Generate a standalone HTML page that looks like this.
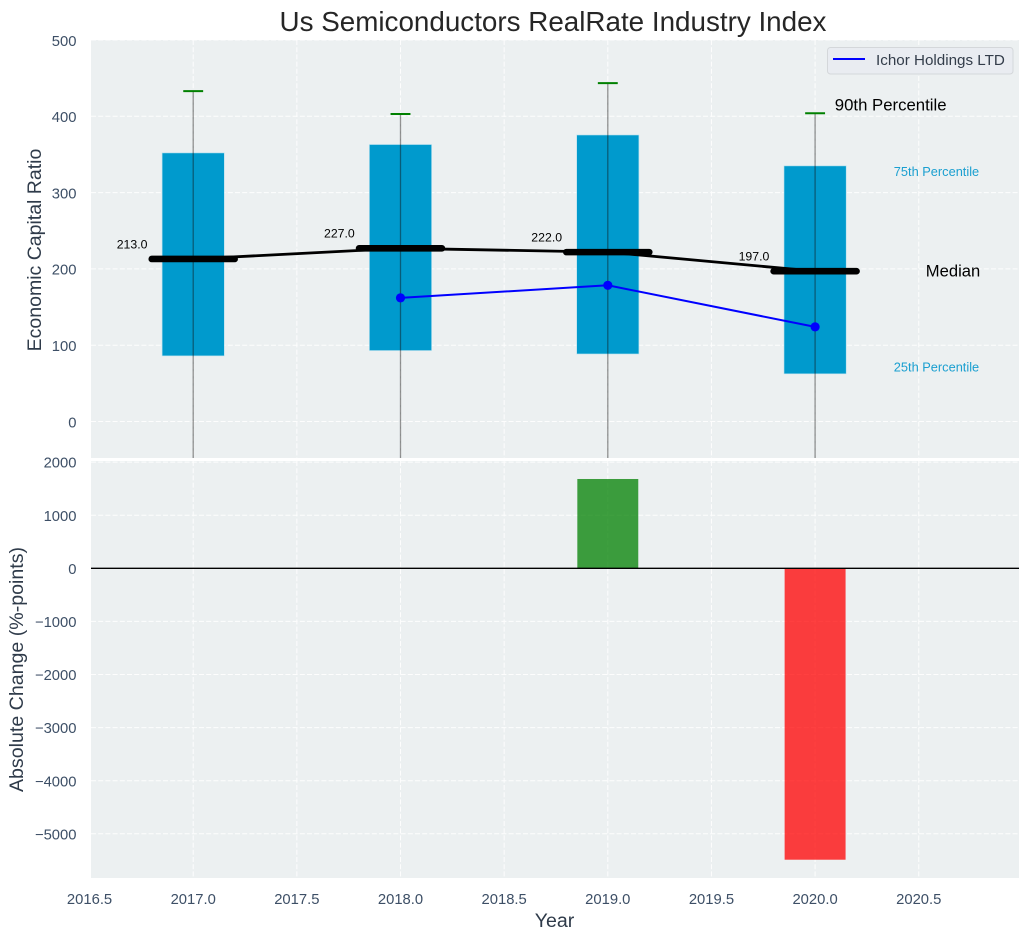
<!DOCTYPE html>
<html lang="en">
<head>
<meta charset="utf-8">
<title>Us Semiconductors RealRate Industry Index</title>
<style>
html,body{margin:0;padding:0;background:#fff;}
body{width:1029px;height:940px;overflow:hidden;}
svg{display:block;font-family:"Liberation Sans",sans-serif;}
</style>
</head>
<body>
<svg id="chart" width="1029" height="940" viewBox="0 0 1029 940" xmlns="http://www.w3.org/2000/svg">
<defs>
<clipPath id="clip-top"><rect x="91" y="40" width="928" height="418"/></clipPath>
<clipPath id="clip-bottom"><rect x="91" y="461" width="928" height="417"/></clipPath>
</defs>
</svg>
<script>
const years = [2017, 2018, 2019, 2020];
const q1Values = [86, 93, 88.5, 62.5];
const q3Values = [352, 363, 375.5, 335];
const medianValues = [213, 227, 222, 197];
const p90Values = [433, 403, 443.5, 404];
const p10Values = [-60, -60, -60, -60];
const companyYears = [2018, 2019, 2020];
const companyValues = [162, 178.5, 124];
const changeYears = [2019, 2020];
const changeValues = [1682, -5488];
const xTicks = [2016.5, 2017, 2017.5, 2018, 2018.5, 2019, 2019.5, 2020, 2020.5];
const xTickLabels = ['2016.5', '2017.0', '2017.5', '2018.0', '2018.5', '2019.0', '2019.5', '2020.0', '2020.5'];
const topTicks = [0, 100, 200, 300, 400, 500];
const bottomTicks = [2000, 1000, 0, -1000, -2000, -3000, -4000, -5000];

const svg = document.getElementById('chart');
const NS = 'http://www.w3.org/2000/svg';

function xScale(v) { return 193.2 + (v - 2017) * 207.3; }
function yTop(v) { return 421.5 - v * 0.763; }
function yBottom(v) { return 568.3 - v * 0.0531; }

function make(tag, attrs, parent) {
  const el = document.createElementNS(NS, tag);
  for (const k in attrs) el.setAttribute(k, attrs[k]);
  (parent || svg).appendChild(el);
  return el;
}
function makeText(str, attrs, parent) {
  const el = make('text', attrs, parent);
  el.textContent = str;
  return el;
}
function fmtTick(v) { return v < 0 ? '\u2212' + Math.abs(v) : String(v); }

/* panels */
const topBg = make('rect', {x: 91, y: 40, width: 928, height: 418, fill: '#ecf0f1'});


const botBg = make('rect', {x: 91, y: 461, width: 928, height: 417, fill: '#ecf0f1'});



const gridTop = make('g', {'clip-path': 'url(#clip-top)', stroke: '#fff', 'stroke-width': 1, 'stroke-dasharray': '5 2.2', opacity: 0.9});


const gridBottom = make('g', {'clip-path': 'url(#clip-bottom)', stroke: '#fff', 'stroke-width': 1, 'stroke-dasharray': '5 2.2', opacity: 0.9});



xTicks.forEach(function (t) {
  make('line', {x1: xScale(t), x2: xScale(t), y1: 40, y2: 458}, gridTop);
  make('line', {x1: xScale(t), x2: xScale(t), y1: 461, y2: 878}, gridBottom);
});
topTicks.forEach(function (t) {
  make('line', {x1: 91, x2: 1019, y1: yTop(t), y2: yTop(t)}, gridTop);
});
bottomTicks.forEach(function (t) {
  make('line', {x1: 91, x2: 1019, y1: yBottom(t), y2: yBottom(t)}, gridBottom);
});

/* tick labels */
const tickColor = '#3d4f66';
const yTickGroup = make('g', {fill: tickColor, 'font-size': 14.8, 'text-anchor': 'end'});


topTicks.forEach(function (t) {
  makeText(fmtTick(t), {x: 76.5, y: yTop(t) + 5.8}, yTickGroup);
});
bottomTicks.forEach(function (t) {
  makeText(fmtTick(t), {x: 76.5, y: yBottom(t) + 5.6}, yTickGroup);
});
const xTickGroup = make('g', {fill: tickColor, 'font-size': 14.8, 'text-anchor': 'middle'});


xTicks.forEach(function (t, i) {
  makeText(xTickLabels[i], {x: xScale(t), y: 904}, xTickGroup);
});

/* top panel marks */
const marks = make('g', {'clip-path': 'url(#clip-top)'});



years.forEach(function (yr, i) {
  const hw = 0.15;
  const box = make('rect', {
    x: xScale(yr - hw), width: xScale(yr + hw) - xScale(yr - hw),
    y: yTop(q3Values[i]), height: yTop(q1Values[i]) - yTop(q3Values[i]),
    fill: '#009acd', stroke: '#b5e0ee', 'stroke-width': 0.6
  }, marks);
  
  
});
years.forEach(function (yr, i) {
  const w = make('line', {
    x1: xScale(yr), x2: xScale(yr), y1: yTop(p90Values[i]), y2: yTop(p10Values[i]),
    stroke: '#111', 'stroke-opacity': 0.45, 'stroke-width': 1.3
  }, marks);
  
  
  const cap = make('line', {
    x1: xScale(yr - 0.048), x2: xScale(yr + 0.048), y1: yTop(p90Values[i]), y2: yTop(p90Values[i]),
    stroke: '#008000', 'stroke-width': 2
  }, marks);
  
  
});

const medianPath = make('polyline', {
  points: years.map(function (yr, i) { return xScale(yr) + ',' + yTop(medianValues[i]); }).join(' '),
  fill: 'none', stroke: '#000', 'stroke-width': 2.8
}, marks);



years.forEach(function (yr, i) {
  const m = make('line', {
    x1: xScale(yr - 0.2), x2: xScale(yr + 0.2), y1: yTop(medianValues[i]), y2: yTop(medianValues[i]),
    stroke: '#000', 'stroke-width': 6.6, 'stroke-linecap': 'round'
  }, marks);
  
  
  const lbl = makeText(medianValues[i].toFixed(1), {
    x: xScale(yr) - 76.5, y: yTop(medianValues[i]) - 10.6, 'font-size': 12.3, fill: '#000'
  });
  
  
});

const companyPath = make('polyline', {
  points: companyYears.map(function (yr, i) { return xScale(yr) + ',' + yTop(companyValues[i]); }).join(' '),
  fill: 'none', stroke: '#0000ff', 'stroke-width': 2
}, marks);


companyYears.forEach(function (yr, i) {
  const c = make('circle', {cx: xScale(yr), cy: yTop(companyValues[i]), r: 4.6, fill: '#0000ff'}, marks);
  
  
});

/* percentile annotations tied to the last year */
const last = years.length - 1;
const a90 = makeText('90th Percentile', {x: xScale(years[last]) + 19.7, y: yTop(p90Values[last]) - 2.8, 'font-size': 16.75, fill: '#000'});


const a75 = makeText('75th Percentile', {x: xScale(years[last]) + 78.7, y: yTop(q3Values[last]) + 10.2, 'font-size': 12.8, fill: '#1a9fd0'});


const aMed = makeText('Median', {x: xScale(years[last]) + 110.7, y: yTop(medianValues[last]) + 5.4, 'font-size': 16.6, fill: '#000'});


const a25 = makeText('25th Percentile', {x: xScale(years[last]) + 78.7, y: yTop(q1Values[last]) - 2.2, 'font-size': 12.8, fill: '#1a9fd0'});



/* bottom panel */
const barsGroup = make('g', {'clip-path': 'url(#clip-bottom)'});


changeYears.forEach(function (yr, i) {
  const v = changeValues[i];
  const top = Math.min(yBottom(v), yBottom(0));
  const b = make('rect', {
    x: xScale(yr - 0.147), width: xScale(yr + 0.147) - xScale(yr - 0.147),
    y: top, height: Math.abs(yBottom(v) - yBottom(0)),
    fill: v >= 0 ? '#008000' : '#ff0000', 'fill-opacity': 0.75
  }, barsGroup);
  
  
});
const zeroLine = make('line', {x1: 91, x2: 1019, y1: yBottom(0), y2: yBottom(0), stroke: '#000', 'stroke-width': 1.3});



/* titles */
const title = makeText('Us Semiconductors RealRate Industry Index', {x: 553, y: 31, 'font-size': 27.8, fill: '#262626', 'text-anchor': 'middle'});


const yl1 = makeText('Economic Capital Ratio', {x: 0, y: 0, 'font-size': 19.5, fill: '#2f3b4a', 'text-anchor': 'middle', transform: 'translate(41,250) rotate(-90)'});


const yl2 = makeText('Absolute Change (%-points)', {x: 0, y: 0, 'font-size': 19.6, fill: '#2f3b4a', 'text-anchor': 'middle', transform: 'translate(23,669.5) rotate(-90)'});


const xl = makeText('Year', {x: 554.5, y: 927, 'font-size': 19.6, fill: '#2f3b4a', 'text-anchor': 'middle'});



/* legend */
const legend = make('g', {});


make('rect', {x: 827.5, y: 47.5, width: 185.5, height: 26.5, rx: 3, fill: '#e9ecf1', stroke: '#d4d7da', 'stroke-width': 1}, legend);
const legendLine = make('line', {x1: 833, x2: 865, y1: 59, y2: 59, stroke: '#0000ff', 'stroke-width': 2}, legend);


const legendText = makeText('Ichor Holdings LTD', {x: 876, y: 65, 'font-size': 15.2, fill: '#333d4a'}, legend);


</script>
</body>
</html>
